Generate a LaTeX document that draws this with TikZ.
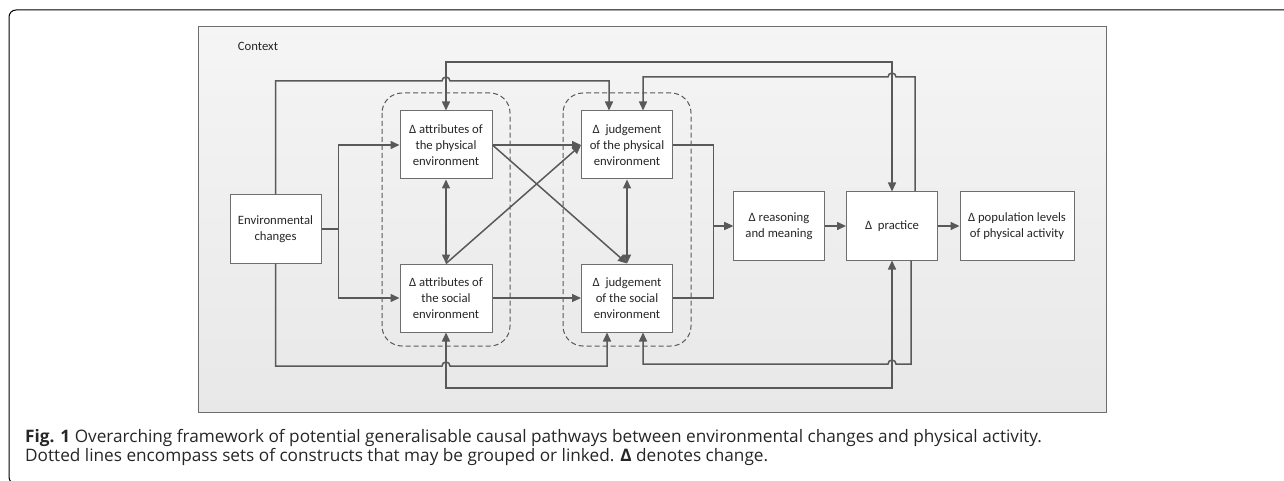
\documentclass[tikz,border=0pt]{standalone}
\usepackage{fontspec}
\setmainfont{Carlito}
\newfontfamily\capfont{Open Sans}
\usetikzlibrary{arrows.meta}
\definecolor{linegray}{HTML}{595959}
\definecolor{boxgray}{HTML}{6E6E6E}
\definecolor{txtgray}{HTML}{262626}

\tikzset{
  box/.style={draw=boxgray, line width=1pt, fill=white, minimum height=68pt,
    inner sep=1pt, align=center, text=txtgray, font=\fontsize{12.7}{15.7}\selectfont},
  link/.style={draw=linegray, line width=1.5pt},
  thinlink/.style={draw=linegray, line width=1.2pt},
  grp/.style={draw=linegray, dash pattern=on 5pt off 3pt, line width=1pt, rounded corners=20pt},
}

\begin{document}
\begin{tikzpicture}[x=1pt,y=-1pt,>={Triangle[length=9pt,width=8pt]}]
\useasboundingbox (0,0) rectangle (1284,481);
% frame and context
\draw[line width=1pt, rounded corners=7pt] (1284,10) -- (9,10) -- (9,484) -- (40,484);
\draw[draw=boxgray, line width=1pt, top color=black!4, bottom color=black!9] (198,27) rectangle (1106,412);
\node[text=txtgray, font=\fontsize{12.7}{15}\selectfont] (ctxlabel) at (258,46) {Context};
% groups
\draw[grp] (382,93) rectangle (510,346);
\draw[grp] (563,93) rectangle (691,346);

\node[box, minimum width=91pt] (env) at (275.5,229) {Environmental\\changes};
\node[box, minimum width=92pt] (attphys) at (446,145) {Δ attributes of\\the physical\\environment};
\node[box, minimum width=92pt] (attsoc) at (446,298) {Δ attributes of\\the social\\environment};
\node[box, minimum width=91pt] (judphys) at (627,145) {Δ\ \ judgement\\of the physical\\environment};
\node[box, minimum width=91pt] (judsoc) at (627,298) {Δ\ \ judgement\\of the social\\environment};
\node[box, minimum width=91pt] (reason) at (779,226) {Δ reasoning\\and meaning};
\node[box, minimum width=91pt] (practice) at (892,226) {Δ\ \ practice};
\node[box, minimum width=114pt] (poplev) at (1017,226) {Δ population levels\\of physical activity};

% environmental changes
\draw[link,->] (env.east) -- ++(17,0) |- (attphys.west);
\draw[link,->] (env.east) -- ++(17,0) |- (attsoc.west);
\draw[link,->] (env.north) |- (442,81) arc[start angle=180,end angle=360,radius=4] -| ([xshift=-18pt]judphys.north);
\draw[link,->] (env.south) |- (442,366) arc[start angle=180,end angle=360,radius=4] -| ([xshift=-20pt]judsoc.south);
% practice loops
\draw[link,<->] (attphys.north) -- ++(0,-48.3) -| (practice.north);
\draw[link,<->] (attsoc.south) -- ++(0,55.7) -| (practice.south);
\draw[link,->] ([xshift=23pt]practice.north) |- (896,77) arc[start angle=0,end angle=-180,radius=4] -| ([xshift=16pt]judphys.north);
\draw[link,->] ([xshift=19pt]practice.south) |- (896,364) arc[start angle=0,end angle=-180,radius=4] -| ([xshift=16pt]judsoc.south);
% inside and between the groups
\draw[link,<->] (attphys) -- (attsoc);
\draw[link,<->] (judphys) -- (judsoc);
\draw[link,->] (attphys.east) -- (judphys.west);
\draw[thinlink,->] (attsoc.east) -- (judsoc.west);
\draw[link,->] (attphys.east) -- (judsoc.north);
\draw[link,->] (attsoc.north) -- (judphys.west);
% towards physical activity
\draw[thinlink,->] (judphys.east) -- ++(40.6,0) |- (reason.west);
\draw[thinlink,->] (judsoc.east) -- ++(40.6,0) |- (reason.west);
\draw[link,->] (reason) -- (practice);
\draw[link,->] (practice) -- (poplev);

% caption
\node[anchor=base west, inner sep=0, text=txtgray, font=\capfont\fontsize{17.2}{19}\selectfont] (cap1) at (25,442)
  {\textbf{Fig. 1} Overarching framework of potential generalisable causal pathways between environmental changes and physical activity.};
\node[anchor=base west, inner sep=0, text=txtgray, font=\capfont\fontsize{17.2}{19}\selectfont] (cap2) at (25,461)
  {Dotted lines encompass sets of constructs that may be grouped or linked. \textbf{Δ} denotes change.};
\end{tikzpicture}
\end{document}
